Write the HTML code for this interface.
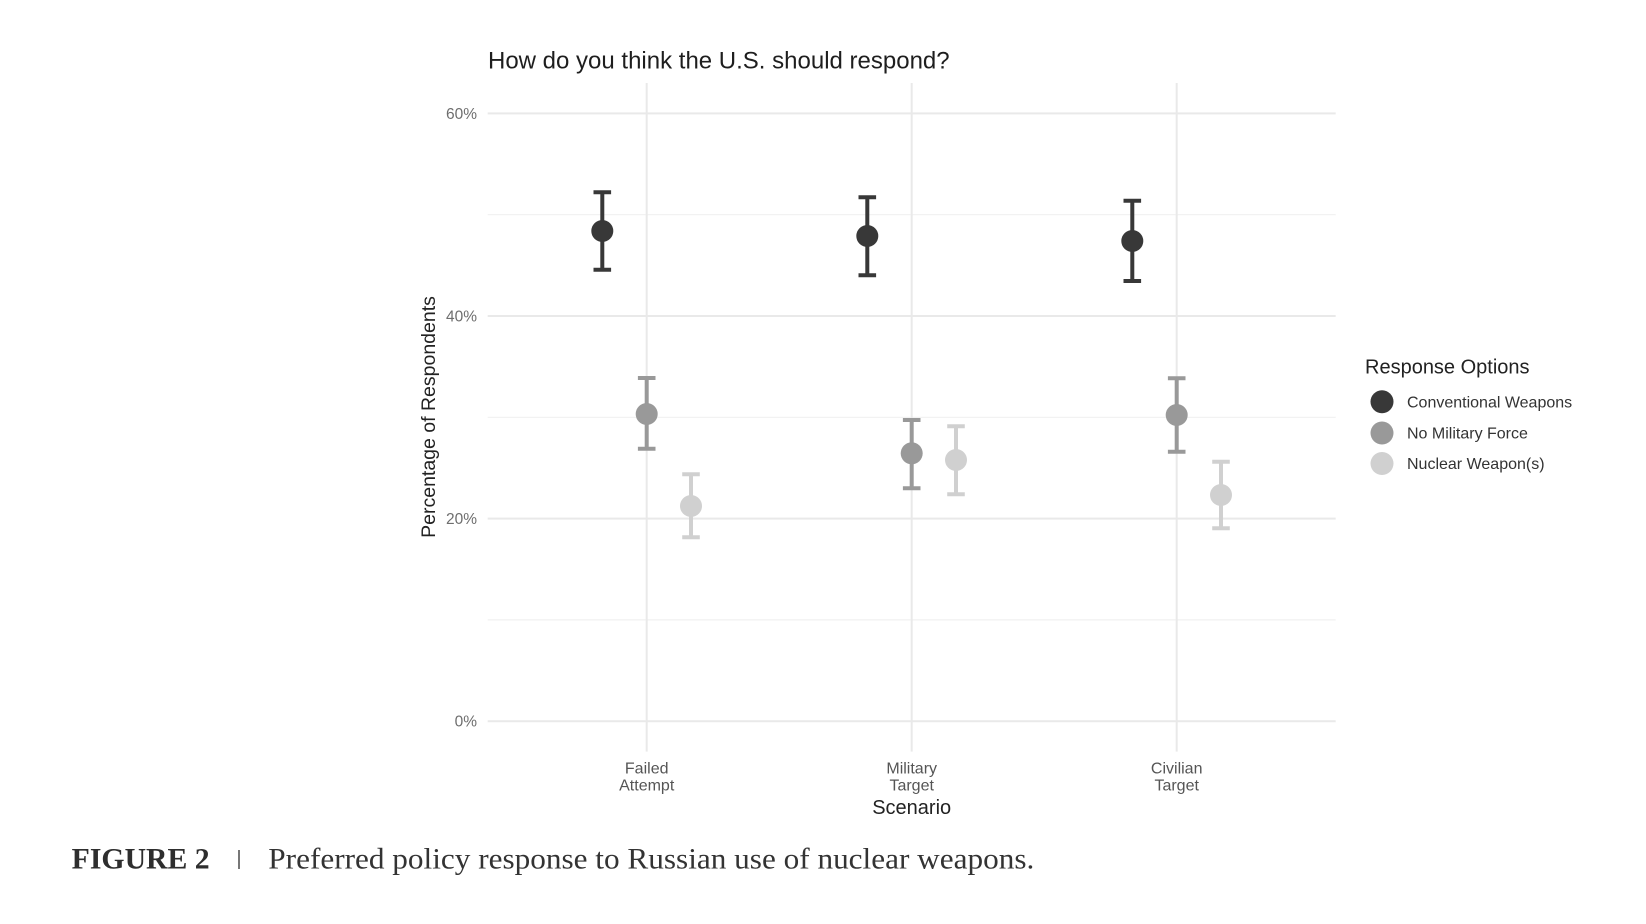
<!DOCTYPE html>
<html>
<head>
<meta charset="utf-8">
<style>
  html, body { margin: 0; padding: 0; background: #ffffff; }
  body { width: 1646px; height: 924px; overflow: hidden; }
  svg { display: block; }
  .sans { font-family: "Liberation Sans", Arial, sans-serif; }
  .serif { font-family: "Liberation Serif", "Times New Roman", serif; }
</style>
</head>
<body>
<svg width="1646" height="924" viewBox="0 0 1646 924" xmlns="http://www.w3.org/2000/svg">
  <rect x="0" y="0" width="1646" height="924" fill="#ffffff"/>

  <!-- Title -->
  <text class="sans" x="488" y="68.3" font-size="24" fill="#1e1e1e">How do you think the U.S. should respond?</text>

  <!-- Minor horizontal grid -->
  <g stroke="#f1f1f1" stroke-width="1.2">
    <line x1="487.7" x2="1335.7" y1="619.9" y2="619.9"/>
    <line x1="487.7" x2="1335.7" y1="417.3" y2="417.3"/>
    <line x1="487.7" x2="1335.7" y1="214.7" y2="214.7"/>
  </g>
  <!-- Major horizontal grid -->
  <g stroke="#e9e9e9" stroke-width="2">
    <line x1="487.7" x2="1335.7" y1="721.2" y2="721.2"/>
    <line x1="487.7" x2="1335.7" y1="518.6" y2="518.6"/>
    <line x1="487.7" x2="1335.7" y1="316" y2="316"/>
    <line x1="487.7" x2="1335.7" y1="113.4" y2="113.4"/>
  </g>
  <!-- Vertical grid -->
  <g stroke="#e9e9e9" stroke-width="2">
    <line x1="646.7" x2="646.7" y1="83" y2="751.6"/>
    <line x1="911.7" x2="911.7" y1="83" y2="751.6"/>
    <line x1="1176.7" x2="1176.7" y1="83" y2="751.6"/>
  </g>

  <!-- Y tick labels -->
  <g class="sans" font-size="15.5" fill="#6e6e6e" text-anchor="end">
    <text x="477" y="726.7">0%</text>
    <text x="477" y="524.1">20%</text>
    <text x="477" y="321.5">40%</text>
    <text x="477" y="118.9">60%</text>
  </g>

  <!-- Y axis title -->
  <text class="sans" font-size="19.5" fill="#222" text-anchor="middle" transform="translate(435,417) rotate(-90)">Percentage of Respondents</text>

  <!-- X tick labels -->
  <g class="sans" font-size="16" fill="#555" text-anchor="middle">
    <text x="646.7" y="773.3">Failed</text>
    <text x="646.7" y="790.5">Attempt</text>
    <text x="911.7" y="773.3">Military</text>
    <text x="911.7" y="790.5">Target</text>
    <text x="1176.7" y="773.3">Civilian</text>
    <text x="1176.7" y="790.5">Target</text>
  </g>
  <!-- X axis title -->
  <text class="sans" x="911.7" y="814" font-size="20" fill="#222" text-anchor="middle">Scenario</text>

  <!-- Conventional Weapons -->
  <g stroke="#383838" stroke-width="4" fill="#383838">
    <line x1="602.3" x2="602.3" y1="192.3" y2="269.7"/>
    <line x1="593.5" x2="611.1" y1="192.3" y2="192.3"/>
    <line x1="593.5" x2="611.1" y1="269.7" y2="269.7"/>
    <circle cx="602.3" cy="231" r="11" stroke="none"/>

    <line x1="867.3" x2="867.3" y1="197.3" y2="275.3"/>
    <line x1="858.5" x2="876.1" y1="197.3" y2="197.3"/>
    <line x1="858.5" x2="876.1" y1="275.3" y2="275.3"/>
    <circle cx="867.3" cy="236" r="11" stroke="none"/>

    <line x1="1132.3" x2="1132.3" y1="200.7" y2="281"/>
    <line x1="1123.5" x2="1141.1" y1="200.7" y2="200.7"/>
    <line x1="1123.5" x2="1141.1" y1="281" y2="281"/>
    <circle cx="1132.3" cy="241" r="11" stroke="none"/>
  </g>
  <!-- No Military Force -->
  <g stroke="#999999" stroke-width="4" fill="#999999">
    <line x1="646.7" x2="646.7" y1="378" y2="448.7"/>
    <line x1="637.9" x2="655.5" y1="378" y2="378"/>
    <line x1="637.9" x2="655.5" y1="448.7" y2="448.7"/>
    <circle cx="646.7" cy="414" r="11" stroke="none"/>

    <line x1="911.7" x2="911.7" y1="420" y2="488.3"/>
    <line x1="902.9" x2="920.5" y1="420" y2="420"/>
    <line x1="902.9" x2="920.5" y1="488.3" y2="488.3"/>
    <circle cx="911.7" cy="453.3" r="11" stroke="none"/>

    <line x1="1176.7" x2="1176.7" y1="378.3" y2="451.7"/>
    <line x1="1167.9" x2="1185.5" y1="378.3" y2="378.3"/>
    <line x1="1167.9" x2="1185.5" y1="451.7" y2="451.7"/>
    <circle cx="1176.7" cy="415" r="11" stroke="none"/>
  </g>
  <!-- Nuclear Weapon(s) -->
  <g stroke="#d0d0d0" stroke-width="4" fill="#d0d0d0">
    <line x1="691" x2="691" y1="474.3" y2="537.3"/>
    <line x1="682.2" x2="699.8" y1="474.3" y2="474.3"/>
    <line x1="682.2" x2="699.8" y1="537.3" y2="537.3"/>
    <circle cx="691" cy="506" r="11" stroke="none"/>

    <line x1="956" x2="956" y1="426.3" y2="494.3"/>
    <line x1="947.2" x2="964.8" y1="426.3" y2="426.3"/>
    <line x1="947.2" x2="964.8" y1="494.3" y2="494.3"/>
    <circle cx="956" cy="460" r="11" stroke="none"/>

    <line x1="1221" x2="1221" y1="461.7" y2="528.3"/>
    <line x1="1212.2" x2="1229.8" y1="461.7" y2="461.7"/>
    <line x1="1212.2" x2="1229.8" y1="528.3" y2="528.3"/>
    <circle cx="1221" cy="495" r="11" stroke="none"/>
  </g>

  <!-- Legend -->
  <text class="sans" x="1365" y="373.3" font-size="20" fill="#222">Response Options</text>
  <circle cx="1382" cy="401.7" r="11.5" fill="#383838"/>
  <circle cx="1382" cy="433" r="11.5" fill="#999999"/>
  <circle cx="1382" cy="463.5" r="11.5" fill="#d0d0d0"/>
  <g class="sans" font-size="16" fill="#333">
    <text x="1407" y="407.4">Conventional Weapons</text>
    <text x="1407" y="438.7">No Military Force</text>
    <text x="1407" y="469.2">Nuclear Weapon(s)</text>
  </g>

  <!-- Caption -->
  <text class="serif" x="71.7" y="868.3" font-size="29.5" font-weight="bold" fill="#2e2e2e" textLength="138" lengthAdjust="spacingAndGlyphs">FIGURE 2</text>
  <line x1="239" x2="239" y1="850" y2="869" stroke="#555" stroke-width="1.6"/>
  <text class="serif" x="268.3" y="868.3" font-size="30" fill="#333" textLength="766" lengthAdjust="spacingAndGlyphs">Preferred policy response to Russian use of nuclear weapons.</text>
</svg>
</body>
</html>
